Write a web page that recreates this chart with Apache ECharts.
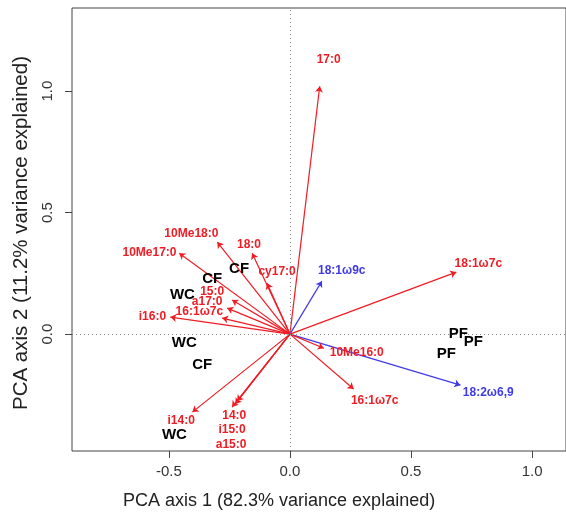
<!DOCTYPE html>
<html>
<head>
<meta charset="utf-8">
<script src="https://cdn.jsdelivr.net/npm/echarts@6/dist/echarts.min.js"></script>
<style>
  html, body { margin: 0; padding: 0; background: #fff; }
  #chart { width: 566px; height: 519px; }
</style>
</head>
<body>
<div id="chart"></div>
<script>
// fatty acid loadings (arrow tips)
const varNames = ['17:0', '18:1ω7c', '18:1ω9c', '18:2ω6,9', '10Me16:0', '16:1ω7c',
  '10Me18:0', '10Me17:0', '18:0', 'cy17:0', '15:0', 'a17:0', '16:1ω7c', 'i16:0',
  'i14:0', '14:0', 'i15:0', 'a15:0']
const varX = [0.123, 0.687, 0.132, 0.704, 0.140, 0.263,
  -0.300, -0.457, -0.156, -0.095, -0.239, -0.259, -0.280, -0.494,
  -0.403, -0.239, -0.226, -0.218]
const varY = [1.020, 0.255, 0.218, -0.210, -0.058, -0.226,
  0.379, 0.333, 0.333, 0.210, 0.140, 0.107, 0.066, 0.070,
  -0.321, -0.300, -0.288, -0.276]
// where each loading's name is written
const labelX = [0.160, 0.778, 0.214, 0.819, 0.276, 0.350,
  -0.407, -0.580, -0.169, -0.053, -0.321, -0.342, -0.374, -0.568,
  -0.449, -0.230, -0.239, -0.243]
const labelY = [1.128, 0.288, 0.263, -0.239, -0.078, -0.272,
  0.412, 0.337, 0.370, 0.255, 0.173, 0.132, 0.091, 0.070,
  -0.358, -0.337, -0.395, -0.453]
const varGroup = ['r', 'r', 'b', 'b', 'r', 'r',
  'r', 'r', 'r', 'r', 'r', 'r', 'r', 'r',
  'r', 'r', 'r', 'r']

// sample scores
const siteNames = ['CF', 'CF', 'WC', 'WC', 'CF', 'WC', 'PF', 'PF', 'PF']
const siteX = [-0.321, -0.210, -0.444, -0.436, -0.362, -0.477, 0.695, 0.757, 0.646]
const siteY = [0.226, 0.267, 0.160, -0.037, -0.128, -0.416, 0.000, -0.033, -0.082]

const xTicks = [-0.5, 0, 0.5, 1.0]
const yTicks = [0, 0.5, 1.0]

const RED = '#f01c24'
const BLUE = '#3f3ae6'

const chart = echarts.init(document.getElementById('chart'))

const arrowData = varNames.map((n, i) => ({
  coords: [[0, 0], [varX[i], varY[i]]],
  lineStyle: { color: varGroup[i] === 'b' ? BLUE : RED }
}))

const labelData = varNames.map((n, i) => ({
  name: n,
  value: [labelX[i], labelY[i]],
  label: { color: varGroup[i] === 'b' ? BLUE : RED }
}))

const siteData = siteNames.map((n, i) => ({ name: n, value: [siteX[i], siteY[i]] }))

const axisFont = { color: '#333', fontSize: 15, fontFamily: 'Liberation Sans, Arial, sans-serif' }

const option = {
  animation: false,
  grid: {
    left: 72,
    right: -2,
    top: 8,
    bottom: 68,
    show: true,
    borderColor: '#444',
    borderWidth: 1
  },
  xAxis: {
    type: 'value',
    min: -0.9,
    max: 1.14,
    axisLine: { show: false, onZero: false },
    splitLine: { show: false },
    axisTick: { show: true, length: 7, lineStyle: { color: '#444' }, customValues: xTicks },
    axisLabel: Object.assign({ margin: 13, customValues: xTicks, formatter: v => v.toFixed(1) }, axisFont)
  },
  yAxis: {
    type: 'value',
    min: -0.481,
    max: 1.342,
    axisLine: { show: false, onZero: false },
    splitLine: { show: false },
    axisTick: { show: true, length: 7, lineStyle: { color: '#444' }, customValues: yTicks },
    axisLabel: Object.assign({ margin: 17, rotate: 90, customValues: yTicks, formatter: v => v.toFixed(1) }, axisFont)
  },
  graphic: [
    {
      type: 'text',
      left: 123,
      top: 492,
      style: {
        text: 'PCA axis 1 (82.3% variance explained)',
        fontSize: 18,
        fontFamily: 'Liberation Sans, Arial, sans-serif',
        fill: '#222'
      }
    },
    {
      type: 'text',
      x: 11,
      y: 410,
      rotation: Math.PI / 2,
      style: {
        text: 'PCA axis 2 (11.2% variance explained)',
        fontSize: 20.5,
        fontFamily: 'Liberation Sans, Arial, sans-serif',
        fill: '#222'
      }
    }
  ],
  series: [
    {
      type: 'scatter',
      data: [],
      markLine: {
        silent: true,
        symbol: 'none',
        label: { show: false },
        lineStyle: { color: '#888', type: [1, 3], width: 1 },
        data: [{ xAxis: 0 }, { yAxis: 0 }]
      }
    },
    {
      type: 'lines',
      coordinateSystem: 'cartesian2d',
      symbol: ['none', 'arrow'],
      symbolSize: 6,
      lineStyle: { width: 1.2, opacity: 1 },
      data: arrowData,
      z: 3
    },
    {
      type: 'scatter',
      symbolSize: 1,
      itemStyle: { color: 'rgba(0,0,0,0)', opacity: 1 },
      label: {
        show: true,
        position: 'inside',
        formatter: '{b}',
        fontSize: 12,
        fontWeight: 'bold',
        fontFamily: 'Liberation Sans, Arial, sans-serif'
      },
      data: labelData,
      z: 4
    },
    {
      type: 'scatter',
      symbolSize: 1,
      itemStyle: { color: 'rgba(0,0,0,0)', opacity: 1 },
      label: {
        show: true,
        position: 'inside',
        formatter: '{b}',
        fontSize: 15,
        fontWeight: 'bold',
        color: '#000',
        fontFamily: 'Liberation Sans, Arial, sans-serif'
      },
      data: siteData,
      z: 5
    }
  ]
}

chart.setOption(option)
</script>
</body>
</html>
